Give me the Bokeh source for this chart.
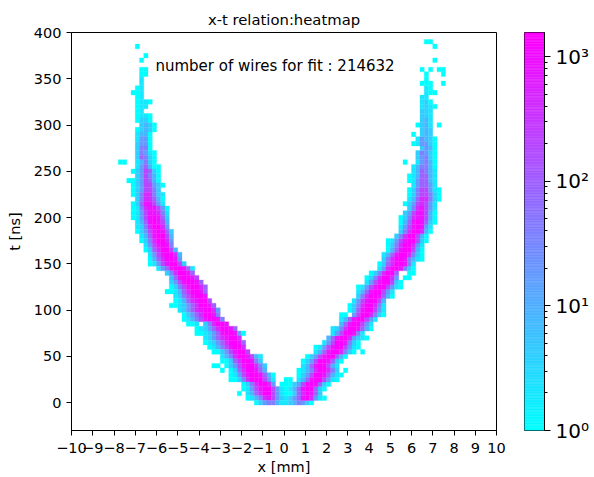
import numpy as np
from bokeh.plotting import figure
from bokeh.layouts import row
from bokeh.embed import file_html
from bokeh.resources import INLINE
from bokeh.core.properties import value
from bokeh.models import ColumnDataSource, LogColorMapper, FixedTicker

TITLE = "x-t relation:heatmap"
NOTE = "number of wires for fit : 214632"
X_TICKS = list(range(-10, 11))
T_TICKS = list(range(0, 401, 50))
BAR_TICKS = [1, 10, 100, 1000]
BAR_LABELS = ["10\u2070", "10\u00b9", "10\u00b2", "10\u00b3"]
BAR_MAX = 1560

# level character -> count per cell ('.' is an empty cell)
LEVELS = {"1": 1, "2": 2, "3": 4, "4": 8, "5": 18, "6": 40, "7": 90, "8": 200, "9": 450, "a": 900, "b": 1500}

# (t bin, first column counted in 0.2 mm cells from x=-8, cells)
LEFT_ROWS = [
    (385, 5, "1"), (375, 7, "1"), (370, 6, "1"), (360, 6, "11"), (355, 6, "11"), (350, 6, "2"), (345, 6, "2"),
    (340, 5, "12"), (335, 4, "112"), (330, 5, "12"), (325, 5, "1221"), (320, 5, "122"), (315, 5, "12"),
    (310, 5, "1221"), (305, 5, "1331"), (300, 6, "3431"), (295, 5, "13431"), (290, 5, "2441"), (285, 5, "2551"),
    (280, 5, "3551"), (275, 5, "3661"), (270, 5, "36521"), (265, 5, "37631"), (260, 1, "11..24631"),
    (255, 5, "257411"), (250, 4, "1358731"), (245, 5, "358641"), (240, 3, "11358741"), (235, 4, "13588531"),
    (230, 4, "1358863"), (225, 4, "13699632"), (220, 5, "3699741"), (215, 4, "137aa852"), (210, 4, "1269aa851"),
    (205, 4, "1258aa962"), (200, 4, "1258aba73"), (195, 5, "247aba84"), (190, 5, "2369bb95"), (185, 5, "1358aba73"),
    (180, 6, "247abb84"), (175, 6, "1369bb95"), (170, 7, "258aba6"), (165, 7, "1379bb84"), (160, 8, "258abb94"),
    (155, 8, "1479bba5"), (150, 8, "1258abb83"), (145, 10, "257abba72"), (140, 12, "369bba7"), (135, 13, "47abba8"),
    (130, 13, "358abba7"), (125, 13, "1368abb97"), (120, 12, "112479bba7"), (115, 14, "2368abba"), (110, 14, "12479abb8"),
    (105, 13, "1123579bba7"), (100, 15, "23579abb95"), (95, 16, "13579bba6"), (90, 16, "12468abba6"), (85, 17, "112.369bba"),
    (80, 19, "123579bba7"), (75, 19, "112357abba51"), (70, 21, "23579abb9"), (65, 21, "123579bba7"), (60, 22, "12468abb9"),
    (55, 23, "11358abb8"), (50, 25, "2469bba842"), (45, 25, "11379bba63"), (40, 23, "11.1358abb963"), (35, 25, "1.1379bba74"),
    (30, 27, "1258abba741"), (25, 27, "11369bbb852"), (20, 30, "1369bb95.1"), (15, 30, "1258abb852"), (10, 29, "1.2479bb852"),
    (5, 31, "12469a853"), (0, 33, "1356642"),
]

# (t bin, first column counted in 0.2 mm cells from x=0, cells)
RIGHT_ROWS = [
    (0, 0, "2346531"), (5, 0, "2357ab9521"), (10, 0, "11379ba73"), (15, 0, "1247abb731"), (20, 0, "11358bba731"),
    (25, 0, "11.247abb8521"), (30, 3, "1358bba7421"), (35, 3, "12469bb963.1"), (40, 4, "247abb842"), (45, 4, "1358bba731"),
    (50, 5, "1358abb741"), (55, 7, "247abb9631.1"), (60, 7, "1258abb8521"), (65, 9, "258bba631"), (70, 10, "47abb95321"),
    (75, 11, "258bba62"), (80, 11, "2369bba741"), (85, 13, "47abb852"), (90, 13, "247abb852"), (95, 13, "11.58bb9631"),
    (100, 15, "137abb852"), (105, 15, "1369bb962"), (110, 16, "258abb84"), (115, 17, "369bba741"), (120, 17, "247abb852"),
    (125, 17, "1258abb8521"), (130, 19, "258abb831"), (135, 19, "1369bb95.11"), (140, 20, "1369bb7..11"), (145, 22, "259bba631"),
    (150, 22, "1379bba62"), (155, 23, "369bba6421"), (160, 23, "247abb9631"), (165, 24, "147abb841"), (170, 24, "1369bb952"),
    (175, 24, "1258abb831"), (180, 26, "369bb841"), (185, 27, "369bb941"), (190, 27, "258aba52"), (195, 27, "147aba731"),
    (200, 27, "1369aa841"), (205, 28, "358aa841"), (210, 29, "369a852"), (215, 28, "13589852"), (220, 29, "24799631"),
    (225, 29, "13688631"), (230, 29, "13688521"), (235, 30, "257752"), (240, 29, "1257742"), (245, 29, "1247742"),
    (250, 30, "247642"), (255, 30, "246641"), (260, 28, "1..25641"), (265, 31, "35631"), (270, 31, "36531"),
    (275, 32, "3541"), (280, 30, "125531"), (285, 31, "25431"), (290, 30, "1.343"), (295, 32, "343"), (300, 31, "1342.1"),
    (305, 32, "342"), (310, 32, "332"), (315, 32, "332"), (320, 32, "2321"), (325, 32, "231"), (330, 32, "22"),
    (335, 33, "211"), (340, 33, "21"), (345, 32, "111..1"), (350, 33, "1"), (355, 33, "1...1"), (360, 32, "1.1.11"),
    (370, 35, "1"), (385, 35, "1"), (390, 33, "11"),
]

CELL_X = 0.2
CELL_T = 5
palette = ["#%02x%02xff" % (i, 255 - i) for i in range(256)]
mapper = LogColorMapper(palette=palette, low=1, high=BAR_MAX)

lefts, rights, bottoms, tops, counts = [], [], [], [], []
for rows, origin in ((LEFT_ROWS, -8.0), (RIGHT_ROWS, 0.0)):
    for t, start, cells in rows:
        for i, ch in enumerate(cells):
            if ch == ".":
                continue
            x0 = origin + CELL_X * (start + i)
            lefts.append(x0)
            rights.append(x0 + CELL_X)
            bottoms.append(t - 2.5)
            tops.append(t + 2.5)
            counts.append(LEVELS[ch])

FONT = "DejaVu Sans"
p = figure(frame_width=425, frame_height=398, x_range=(-10, 10), y_range=(-30, 400), output_backend="svg",
           toolbar_location=None, min_border_left=71, min_border_right=14, min_border_top=32, min_border_bottom=20)
p.title.text = TITLE
p.title.align = "center"
p.title.text_font = FONT
p.title.text_font_size = "14.8px"
p.title.text_font_style = "normal"
p.title.text_color = "#000000"
p.grid.visible = False
p.outline_line_color = "#000000"
p.outline_line_width = 1

src = ColumnDataSource(dict(left=lefts, right=rights, bottom=bottoms, top=tops, count=counts))
color = {"field": "count", "transform": mapper}
p.quad(left="left", right="right", bottom="bottom", top="top", source=src,
       fill_color=color, line_color=color, line_width=0.3)

p.text(x=[-6.05], y=[364], text=[NOTE], text_font=value(FONT), text_font_size="15px",
       text_color="#000000", text_baseline="alphabetic")

for ax, ticks in ((p.xaxis[0], X_TICKS), (p.yaxis[0], T_TICKS)):
    ax.ticker = FixedTicker(ticks=ticks)
    ax.minor_tick_line_color = None
    ax.major_tick_in = 0
    ax.major_tick_out = 5
    ax.major_tick_line_color = "#000000"
    ax.axis_line_color = "#000000"
    ax.major_label_text_font = FONT
    ax.major_label_text_font_size = "14.5px"
    ax.major_label_text_color = "#000000"
    ax.axis_label_text_font = FONT
    ax.axis_label_text_font_size = "14.5px"
    ax.axis_label_text_font_style = "normal"
    ax.axis_label_text_color = "#000000"
p.xaxis[0].axis_label = "x [mm]"
p.yaxis[0].axis_label = "t [ns]"
p.xaxis[0].major_label_overrides = {v: str(v).replace("-", "\u2212") for v in X_TICKS}
p.xaxis[0].major_label_standoff = 7
p.xaxis[0].axis_label_standoff = 3
p.yaxis[0].axis_label_standoff = 8

# colour bar
bar = figure(frame_width=20, frame_height=398, x_range=(0, 1), y_range=(1, BAR_MAX), y_axis_type="log", y_axis_location="right",
             output_backend="svg", toolbar_location=None, min_border_left=14, min_border_right=50,
             min_border_top=32, min_border_bottom=20)
edges = np.geomspace(1, BAR_MAX, 257)
bar.quad(left=0, right=1, bottom=edges[:-1], top=edges[1:], fill_color=palette, line_color=palette, line_width=0.5)
bar.grid.visible = False
bar.xaxis.visible = False
bar.outline_line_color = "#000000"
ax = bar.yaxis[0]
minor = [m * d for d in (1, 10, 100) for m in range(2, 10)] + [1000]
ax.ticker = FixedTicker(ticks=BAR_TICKS, minor_ticks=minor)
ax.major_label_overrides = dict(zip(BAR_TICKS, BAR_LABELS))
ax.major_tick_in = 0
ax.major_tick_out = 6
ax.minor_tick_in = 0
ax.minor_tick_out = 3
ax.major_tick_line_color = "#000000"
ax.minor_tick_line_color = "#000000"
ax.axis_line_color = "#000000"
ax.major_label_text_font = FONT
ax.major_label_text_font_size = "20px"
ax.major_label_text_color = "#000000"

layout = row(p, bar, spacing=0)
open("out.html", "w").write(file_html(layout, INLINE))
